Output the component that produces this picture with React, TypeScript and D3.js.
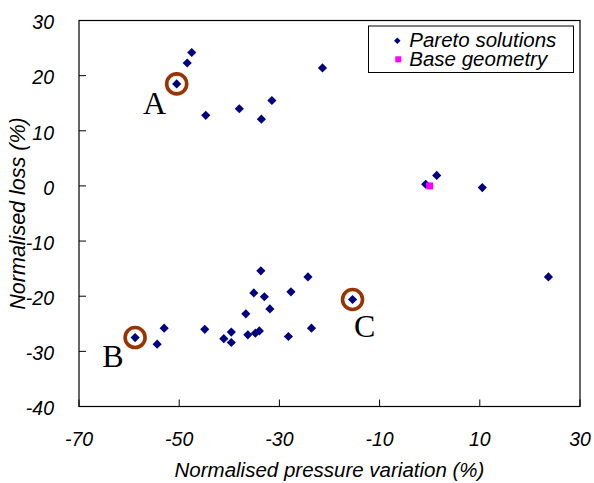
import React from "react";
import * as d3 from "d3";

const paretoX = [
  -47.5, -48.4, -50.5, -44.7, -38.0, -33.6, -31.5, -21.4,
  -33.7, -24.3, -35.1, -33.0, -27.7, -15.4, -31.9, -36.7,
  -53.0, -44.9, -23.6, -39.6, -41.1, -39.6, -36.3, -34.8,
  -34.0, -28.2, -58.8, -54.4, 1.4, -0.8, 10.5, 23.7,
];
const paretoY = [
  24.2, 22.3, 18.5, 12.8, 14.0, 12.1, 15.5, 21.4,
  -15.4, -16.5, -19.4, -20.1, -19.2, -20.6, -22.3, -23.2,
  -25.8, -26.0, -25.8, -26.5, -27.7, -28.4, -27.0, -26.7,
  -26.3, -27.3, -27.5, -28.7, 1.9, 0.3, -0.3, -16.5,
];
const baseX = [0.0];
const baseY = [0.0];

const xTicks = [-70, -50, -30, -10, 10, 30];
const yTicks = [30, 20, 10, 0, -10, -20, -30, -40];

const highlightLabels = ["A", "B", "C"];
const highlightIndex = [2, 26, 13];

const legendLabels = ["Pareto solutions", "Base geometry"];

const W = 594;
const H = 483;
const M = { left: 79, right: 14, top: 20.5, bottom: 76.5 };

export default function App() {
  const x = d3.scaleLinear().domain([-70, 30]).range([M.left, W - M.right]);
  const y = d3.scaleLinear().domain([-40, 30]).range([H - M.bottom, M.top]);

  const diamond = d3.symbol(d3.symbolSquare, 42)()!;
  const legendDiamond = d3.symbol(d3.symbolSquare, 21)()!;
  const square = d3.symbol(d3.symbolSquare, 49)()!;
  const legendSquare = d3.symbol(d3.symbolSquare, 36)()!;

  const x0 = x.range()[0];
  const x1 = x.range()[1];
  const y0 = y.range()[0];
  const y1 = y.range()[1];

  const sans = "'Liberation Sans', Arial, sans-serif";
  const serif = "'Liberation Serif', 'Times New Roman', serif";

  const labelOffsets = [
    { dx: -10.5, dy: 30, anchor: "end" },
    { dx: -11.5, dy: 29, anchor: "end" },
    { dx: 1.5, dy: 37.5, anchor: "start" },
  ];

  return (
    <svg
      width={W}
      height={H}
      style={{ position: "absolute", left: 0, top: 0, background: "#fff" }}
    >
      <rect x={0} y={0} width={W} height={H} fill="#fff" />
      {yTicks.map((t) => (
        <g key={"yt" + t}>
          <line x1={x0} x2={x0 + 7} y1={y(t)} y2={y(t)} stroke="#000" strokeWidth={1} />
          <text
            x={54}
            y={y(t) + 8.8}
            textAnchor="end"
            fontFamily={sans}
            fontStyle="italic"
            fontSize={19.5}
            fill="#000"
          >
            {t}
          </text>
        </g>
      ))}
      {xTicks.map((t) => (
        <g key={"xt" + t}>
          <line x1={x(t)} x2={x(t)} y1={y0} y2={y0 - 7} stroke="#000" strokeWidth={1} />
          <text
            x={x(t)}
            y={y0 + 39}
            textAnchor="middle"
            fontFamily={sans}
            fontStyle="italic"
            fontSize={19.5}
            fill="#000"
          >
            {t}
          </text>
        </g>
      ))}
      <rect
        x={x0}
        y={y1}
        width={x1 - x0}
        height={y0 - y1}
        fill="none"
        stroke="#000"
        strokeWidth={1.2}
      />
      <text
        x={(x0 + x1) / 2}
        y={y0 + 70}
        textAnchor="middle"
        fontFamily={sans}
        fontStyle="italic"
        fontSize={20.5}
        fill="#000"
      >
        Normalised pressure variation (%)
      </text>
      <text
        transform={`translate(${25},${(y0 + y1) / 2}) rotate(-90)`}
        textAnchor="middle"
        fontFamily={sans}
        fontStyle="italic"
        fontSize={21.5}
        fill="#000"
      >
        Normalised loss (%)
      </text>
      {paretoX.map((v, i) => (
        <path
          key={"p" + i}
          d={diamond}
          transform={`translate(${x(v)},${y(paretoY[i])}) rotate(45)`}
          fill="#000080"
        />
      ))}
      {baseX.map((v, i) => (
        <path
          key={"b" + i}
          d={square}
          transform={`translate(${x(v)},${y(baseY[i])})`}
          fill="#ff00ff"
        />
      ))}
      {highlightIndex.map((idx, k) => {
        const cx = x(paretoX[idx]);
        const cy = y(paretoY[idx]);
        const o = labelOffsets[k];
        return (
          <g key={"h" + k}>
            <circle cx={cx} cy={cy} r={10} fill="none" stroke="#993300" strokeWidth={3.6} />
            <text
              x={cx + o.dx}
              y={cy + o.dy}
              textAnchor={o.anchor as any}
              fontFamily={serif}
              fontSize={32}
              fill="#000"
            >
              {highlightLabels[k]}
            </text>
          </g>
        );
      })}
      <g>
        <rect x={368.5} y={26} width={205} height={46.5} fill="#fff" stroke="#000" strokeWidth={1} />
        <path d={legendDiamond} transform={`translate(397.3,40.7) rotate(45)`} fill="#000080" />
        <path d={legendSquare} transform={`translate(398.3,59.3)`} fill="#ff00ff" />
        <text x={409.3} y={47.3} fontFamily={sans} fontStyle="italic" fontSize={20.5} fill="#000">
          {legendLabels[0]}
        </text>
        <text x={409.3} y={65.7} fontFamily={sans} fontStyle="italic" fontSize={20.5} fill="#000">
          {legendLabels[1]}
        </text>
      </g>
    </svg>
  );
}
